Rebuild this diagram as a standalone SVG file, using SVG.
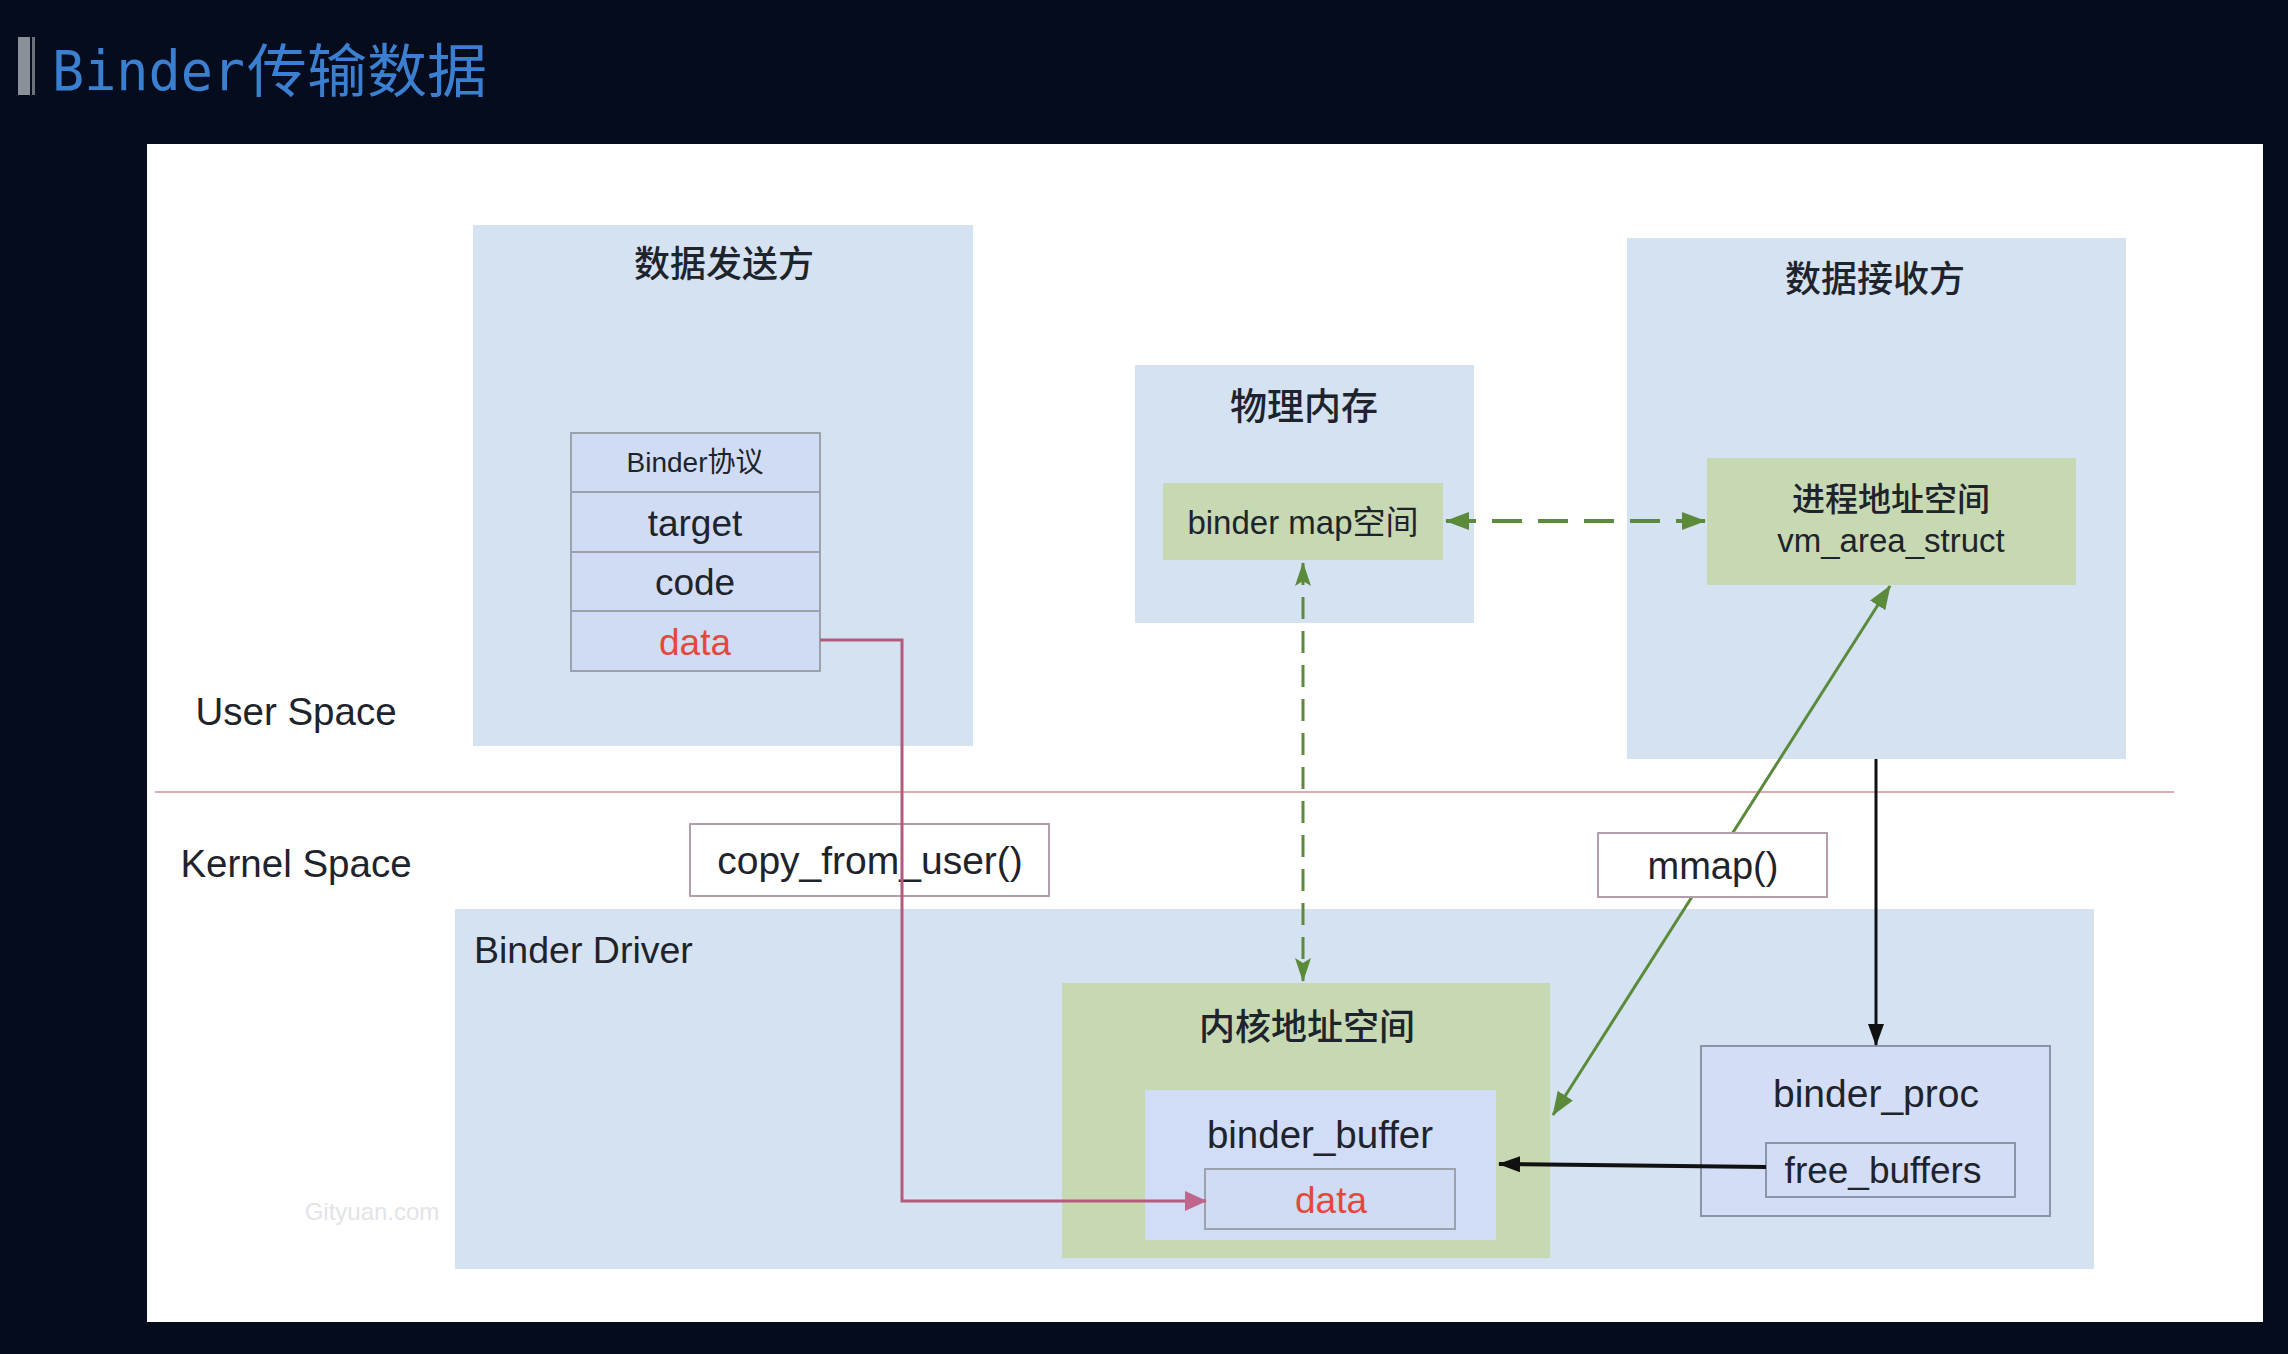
<svg xmlns="http://www.w3.org/2000/svg" width="2288" height="1354" viewBox="0 0 2288 1354">
<style>
.t{font-family:"Liberation Sans","Noto Sans CJK SC",sans-serif;fill:#1e232c;text-anchor:middle}
.cjk{font-family:"Noto Sans CJK SC","Liberation Sans",sans-serif;fill:#1e232c;text-anchor:middle;font-weight:500}
.red{fill:#e5473d}
.blue{fill:#d4e2f2}
.green{fill:#c6d9b3}
.lav{fill:#d1ddf6}
.cell{fill:#d0dcf4;stroke:#9ba2ae;stroke-width:2}
.lbl{fill:#ffffff;stroke:#b39fab;stroke-width:2}
.gdash{fill:none;stroke:#5a8a3a;stroke-width:4;stroke-dasharray:30 16}
.gdash2{fill:none;stroke:#5a8a3a;stroke-width:3;stroke-dasharray:22 12}
.gsolid{fill:none;stroke:#5a8a3a;stroke-width:3}
.blk{fill:none;stroke:#111;stroke-width:3}
.pink{fill:none;stroke:#b35a7d;stroke-width:3}
</style>
<defs>
<marker id="ag" markerUnits="userSpaceOnUse" viewBox="0 0 24 18" refX="23" refY="9" markerWidth="24" markerHeight="18" orient="auto-start-reverse"><path d="M0,0 L24,9 L0,18 z" fill="#5a8a3a"/></marker>
<marker id="agn" markerUnits="userSpaceOnUse" viewBox="0 0 24 16" refX="23" refY="8" markerWidth="24" markerHeight="16" orient="auto-start-reverse"><path d="M0,0 L24,8 L0,16 L5,8 z" fill="#5a8a3a"/></marker>
<marker id="ab" markerUnits="userSpaceOnUse" viewBox="0 0 22 16" refX="21" refY="8" markerWidth="22" markerHeight="16" orient="auto"><path d="M0,0 L22,8 L0,16 z" fill="#111"/></marker>
<marker id="ap" markerUnits="userSpaceOnUse" viewBox="0 0 22 20" refX="21" refY="10" markerWidth="22" markerHeight="20" orient="auto"><path d="M0,0 L22,10 L0,20 z" fill="#c0668c"/></marker>
</defs>

<rect x="0" y="0" width="2288" height="1354" fill="#050c1e"/>
<g id="title">
<rect x="18" y="37" width="12" height="58" fill="#8b9099"/>
<rect x="32" y="37" width="3" height="58" fill="#6c727c"/>
<text x="52" y="90" font-family="DejaVu Sans Mono,Liberation Mono,monospace" font-size="56" fill="#3a7fd0" textLength="193" lengthAdjust="spacingAndGlyphs">Binder</text>
<text x="247" y="92" font-family="Noto Sans CJK SC,sans-serif" font-size="58" fill="#3a7fd0" textLength="240" lengthAdjust="spacingAndGlyphs">传输数据</text>
</g>
<rect x="147" y="144" width="2116" height="1178" fill="#ffffff"/>

<g id="sender">
<rect class="blue" x="473" y="225" width="500" height="521"/>
<text class="cjk" x="724" y="277" font-size="36">数据发送方</text>
</g>
<g id="protocol">
<rect class="cell" x="571" y="433" width="249" height="59"/>
<rect class="cell" x="571" y="492" width="249" height="60"/>
<rect class="cell" x="571" y="552" width="249" height="59"/>
<rect class="cell" x="571" y="611" width="249" height="60"/>
<text class="t" x="695" y="472" font-size="28">Binder协议</text>
<text class="t" x="695" y="536" font-size="37">target</text>
<text class="t" x="695" y="595" font-size="37">code</text>
<text class="t red" x="695" y="655" font-size="37">data</text>
</g>

<g id="phys-mem">
<rect class="blue" x="1135" y="365" width="339" height="258"/>
<text class="cjk" x="1304" y="420" font-size="37">物理内存</text>
</g>
<g id="binder-map">
<rect class="green" x="1163" y="483" width="280" height="77"/>
<text class="t" x="1303" y="534" font-size="33">binder map空间</text>
</g>

<g id="receiver">
<rect class="blue" x="1627" y="238" width="499" height="521"/>
<text class="cjk" x="1875" y="292" font-size="36">数据接收方</text>
</g>
<g id="vm-area">
<rect class="green" x="1707" y="458" width="369" height="127"/>
<text class="cjk" x="1891" y="511" font-size="33">进程地址空间</text>
<text class="t" x="1891" y="552" font-size="33">vm_area_struct</text>
</g>

<g id="space-labels">
<text class="t" x="296" y="725" font-size="38.5">User Space</text>
<text class="t" x="296" y="877" font-size="38.5">Kernel Space</text>
<line x1="155" y1="792" x2="2174" y2="792" stroke="#dcadb0" stroke-width="2"/>
</g>

<g id="copy-label">
<rect class="lbl" x="690" y="824" width="359" height="72"/>
<text class="t" x="870" y="874" font-size="39">copy_from_user()</text>
</g>

<g id="binder-driver">
<rect class="blue" x="455" y="909" width="1639" height="360"/>
<text x="474" y="963" font-family="Liberation Sans,sans-serif" font-size="37.5" fill="#1e232c">Binder Driver</text>
<text x="372" y="1220" font-family="Liberation Sans,sans-serif" font-size="24" fill="#e2e4e8" text-anchor="middle">Gityuan.com</text>
</g>

<g id="kernel-addr">
<rect class="green" x="1062" y="983" width="488" height="275"/>
<text class="cjk" x="1307" y="1040" font-size="36">内核地址空间</text>
</g>
<g id="binder-buffer">
<rect class="lav" x="1145" y="1090" width="351" height="150"/>
<text class="t" x="1320" y="1148" font-size="38.5">binder_buffer</text>
</g>
<g id="buffer-data">
<rect class="cell" x="1205" y="1169" width="250" height="60"/>
<text class="t red" x="1331" y="1213" font-size="37">data</text>
</g>

<g id="binder-proc">
<rect x="1701" y="1046" width="349" height="170" fill="#d3def6" stroke="#8c95a8" stroke-width="2"/>
<text class="t" x="1876" y="1107" font-size="39">binder_proc</text>
</g>
<g id="free-buffers">
<rect x="1766" y="1143" width="249" height="54" fill="#d3def6" stroke="#8c95a8" stroke-width="2"/>
<text class="t" x="1883" y="1183" font-size="37">free_buffers</text>
</g>

<g id="connectors">
<path class="gdash" d="M1446,521 L1705,521" marker-start="url(#ag)" marker-end="url(#ag)"/>
<path class="gdash2" d="M1303,563 L1303,981" marker-start="url(#agn)" marker-end="url(#agn)"/>
<path class="gsolid" d="M1553,1115 L1890,586" marker-start="url(#ag)" marker-end="url(#ag)"/>
<path class="blk" d="M1876,759 L1876,1045" marker-end="url(#ab)"/>
<path class="blk" style="stroke-width:4" d="M1766,1167 L1499,1164" marker-end="url(#ab)"/>
<path class="pink" d="M820,640 L902,640 L902,1201 L1206,1201" marker-end="url(#ap)"/>
</g>

<g id="mmap-label">
<rect class="lbl" x="1598" y="833" width="229" height="64"/>
<text class="t" x="1713" y="879" font-size="38">mmap()</text>
</g>
</svg>
